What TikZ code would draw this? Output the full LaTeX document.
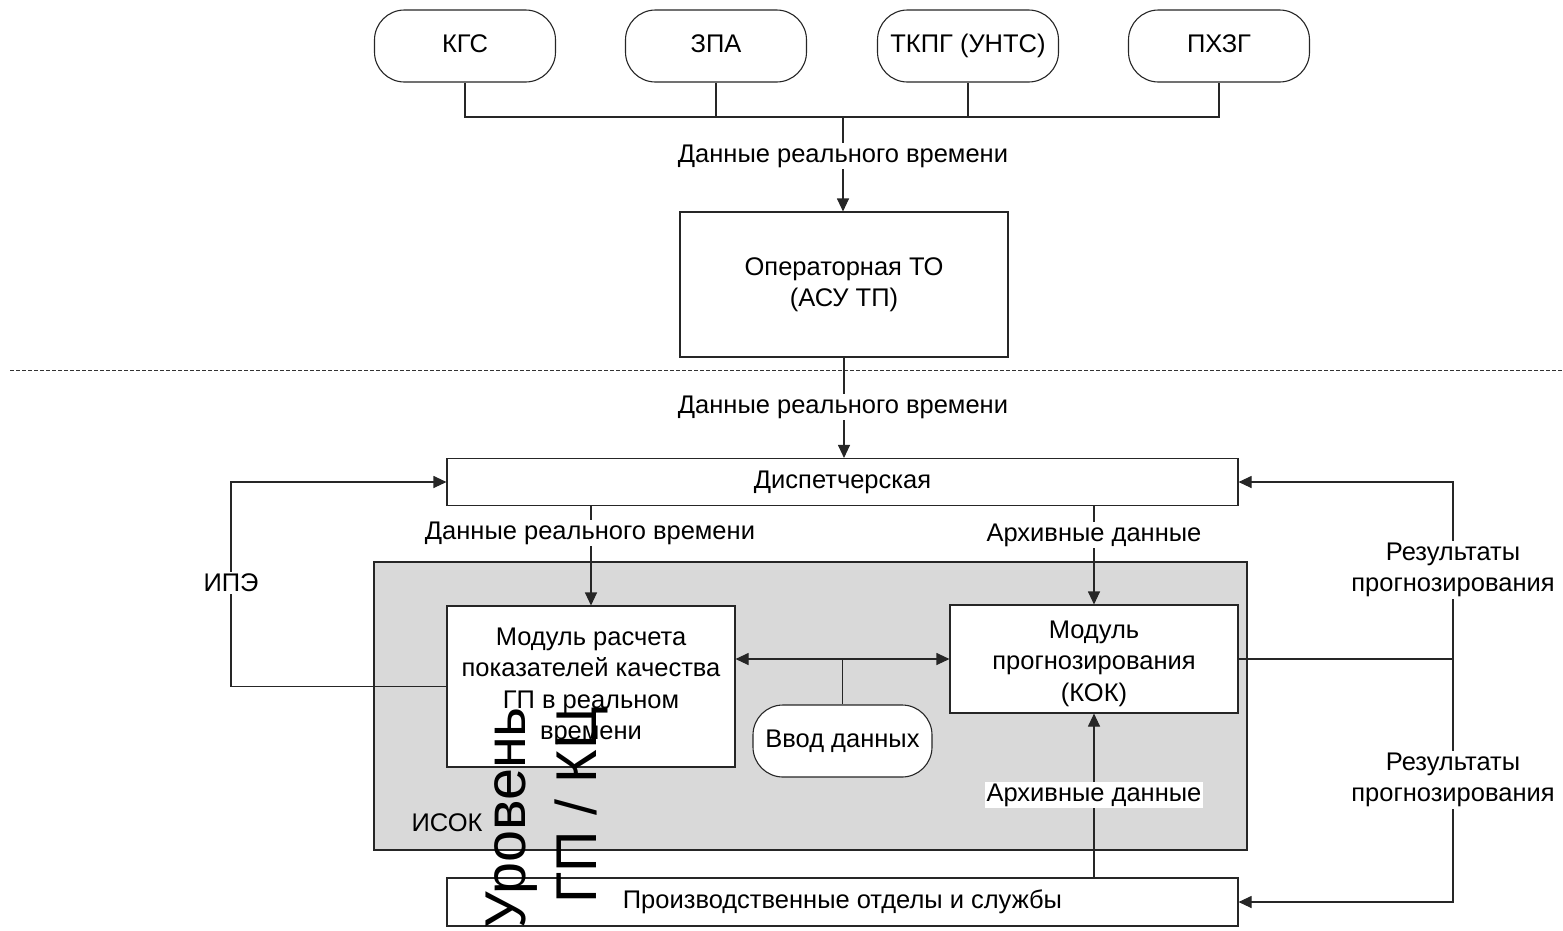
\documentclass[tikz,border=0pt]{standalone}
\usepackage{fontspec}
\setmainfont{Liberation Sans}
\usetikzlibrary{arrows.meta}

\tikzset{
  every node/.style={font=\fontsize{25.5}{31.5}\selectfont, text=black},
  wire/.style={draw=black!85, line width=1.1pt},
  arr/.style={wire, -{Triangle[length=13pt,width=12pt]}},
  arrboth/.style={wire, {Triangle[length=13pt,width=12pt]}-{Triangle[length=13pt,width=12pt]}},
  blockbox/.style={draw=black!85, line width=1.1pt, fill=white, align=center, inner sep=0pt},
  pill/.style={blockbox, rounded corners=30pt, text height=18pt, text depth=5pt},
  lbl/.style={fill=white, align=center, inner sep=2pt},
  plainlbl/.style={align=center, inner sep=0pt},
  bigtext/.style={font=\fontsize{57.5}{70}\selectfont, inner sep=0pt, rotate=90, anchor=base east}
}

\begin{document}
\begin{tikzpicture}[x=1pt, y=-1pt]
\useasboundingbox (0,0) rectangle (1563,930);

% upper level: field objects
\node[pill, minimum width=181pt, minimum height=72pt] (kgs)  at (465,46)  {КГС};
\node[pill, minimum width=181pt, minimum height=72pt] (zpa)  at (716,46)  {ЗПА};
\node[pill, minimum width=181pt, minimum height=72pt] (tkpg) at (968,46)  {ТКПГ (УНТС)};
\node[pill, minimum width=181pt, minimum height=72pt] (phzg) at (1219,46) {ПХЗГ};

\node[blockbox, minimum width=328pt, minimum height=145pt] (oper) at (844,284.5)
  {Операторная ТО\\(АСУ ТП)};

\coordinate (bus) at (843,117);
\draw[wire] (kgs.south) -- (kgs.south |- bus) -- (phzg.south |- bus) -- (phzg.south);
\draw[wire] (zpa.south) -- (zpa.south |- bus);
\draw[wire] (tkpg.south) -- (tkpg.south |- bus);
\draw[arr] (bus) -- (bus |- oper.north);
\node[lbl] (rt1) at (843,156) {Данные реального времени};

% level boundary
\draw[draw=black!80, line width=0.9pt, dash pattern=on 4pt off 2pt] (10,370) -- (1563,370);

% lower level: gray ISOK area
\node[draw=black!85, line width=1.1pt, fill=black!15, minimum width=873pt, minimum height=288pt, inner sep=0pt]
  (isok) at (810.5,706) {};
\node[plainlbl] (isoklbl) at (447,823) {ИСОК};

\node[blockbox, minimum width=791pt, minimum height=47pt] (disp) at (842.5,482) {Диспетчерская};
\node[blockbox, minimum width=791pt, minimum height=48pt] (prod) at (842.5,902) {Производственные отделы и службы};

\node[blockbox, minimum width=288pt, minimum height=161pt] (mr) at (591,686.5)
  {Модуль расчета\\показателей качества\\ГП в реальном\\времени};
\node[blockbox, minimum width=288pt, minimum height=108pt] (mp) at (1094,659)
  {\rule{0pt}{26.5pt}Модуль\\прогнозирования\\(КОК)};
\node[pill, minimum width=179pt, minimum height=72pt] (vvod) at (842.5,741) {Ввод данных};

% connectors
\draw[arr] (oper.south) -- (disp.north -| oper.south);
\node[lbl] (rt2) at (843,407) {Данные реального времени};

\draw[arr] (disp.south -| mr.north) -- (mr.north);
\node[lbl] (rt3) at (590,533) {Данные реального времени};

\draw[arr] (disp.south -| mp.north) -- (mp.north);
\node[lbl] (arh1) at (1094,535) {Архивные данные};

\draw[arrboth] (mp.west -| mr.east) -- (mp.west);
\draw[wire] (vvod.north) -- (vvod.north |- mp.west);

\coordinate (lbus) at (231,686.5);
\draw[arr] (mr.west) -- (lbus) |- (disp.west);
\node[lbl] (ipe) at (231,583) {ИПЭ};

\coordinate (rbus) at (1453,659);
\draw[wire] (mp.east) -- (rbus);
\draw[arr] (rbus) |- (disp.east);
\draw[arr] (rbus) |- (prod.east);
\node[lbl] (res1) at (1453,570) {Результаты\\прогнозирования};
\node[lbl] (res2) at (1453,780) {Результаты\\прогнозирования};

\draw[arr] (prod.north -| mp.south) -- (mp.south);
\node[lbl] (arh2) at (1094,795) {Архивные данные};

% level caption
\node[bigtext] (lvl1) at (525,707) {Уровень};
\node[bigtext] (lvl2) at (596,707) {ГП / КЦ};
\end{tikzpicture}
\end{document}
